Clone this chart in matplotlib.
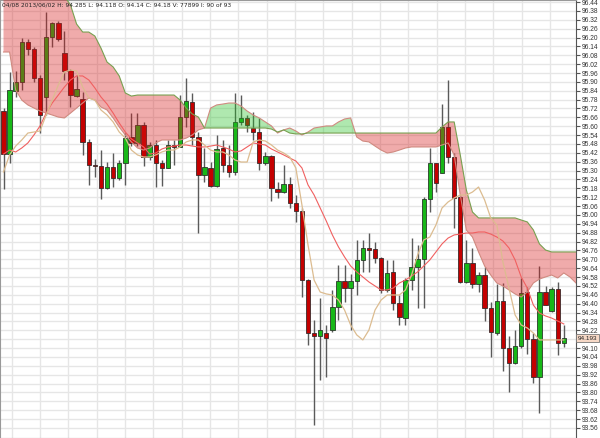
import matplotlib
matplotlib.use("Agg")
import matplotlib.pyplot as plt
import numpy as np

# candle data, one entry per bar
opens = [95.703, 95.412, 95.838, 95.899, 96.170, 96.122, 95.926, 95.798, 96.203, 96.298,
         96.095, 95.980, 95.804, 95.784, 95.494, 95.338, 95.331, 95.182, 95.324, 95.250,
         95.351, 95.527, 95.487, 95.608, 95.392, 95.473, 95.351, 95.318, 95.473, 95.460,
         95.662, 95.764, 95.527, 95.270, 95.318, 95.196, 95.453, 95.338, 95.291, 95.629,
         95.656, 95.588, 95.561, 95.351, 95.399, 95.176, 95.155, 95.209, 95.081, 95.027,
         94.560, 94.202, 94.182, 94.202, 94.222, 94.378, 94.554, 94.506, 94.554, 94.696,
         94.777, 94.770, 94.709, 94.493, 94.615, 94.405, 94.303, 94.560, 94.648, 94.702,
         95.108, 95.351, 95.284, 95.595, 95.392, 95.122, 94.547, 94.675, 94.533, 94.594,
         94.371, 94.202, 94.418, 94.101, 93.999, 94.114, 94.479, 94.161, 93.904, 94.479,
         94.351, 94.499, 94.134]
highs = [95.723, 95.967, 95.974, 96.197, 96.190, 96.136, 95.946, 96.372, 96.305, 96.311,
         96.244, 95.987, 95.946, 95.831, 95.514, 95.379, 95.439, 95.358, 95.419, 95.372,
         95.554, 95.689, 95.689, 95.629, 95.494, 95.507, 95.372, 95.507, 95.507, 95.811,
         95.926, 95.825, 95.561, 95.453, 95.358, 95.541, 95.507, 95.473, 95.825, 95.811,
         95.676, 95.696, 95.656, 95.426, 95.406, 95.223, 95.338, 95.257, 95.135, 95.047,
         94.567, 94.290, 94.439, 94.256, 94.493, 94.662, 94.662, 94.601, 94.831, 94.831,
         94.878, 94.817, 94.716, 94.696, 94.696, 94.459, 94.574, 94.844, 94.797, 95.122,
         95.453, 95.351, 95.750, 95.913, 95.419, 95.135, 94.831, 94.777, 94.615, 94.648,
         94.411, 94.533, 94.540, 94.182, 94.222, 94.574, 94.513, 94.202, 94.655, 94.520,
         94.513, 94.547, 94.256]
lows = [95.176, 95.351, 95.798, 95.845, 96.082, 95.899, 95.554, 95.676, 96.136, 96.176,
        95.913, 95.730, 95.798, 95.406, 95.203, 95.257, 95.108, 95.176, 95.189, 95.237,
        95.203, 95.466, 95.466, 95.331, 95.372, 95.189, 95.196, 95.318, 95.338, 95.460,
        95.595, 95.473, 94.878, 95.223, 95.189, 95.189, 95.291, 95.257, 95.270, 95.608,
        95.561, 95.507, 95.304, 95.338, 95.094, 95.115, 95.149, 95.047, 94.953, 94.445,
        94.121, 93.580, 93.884, 93.904, 94.209, 94.290, 94.411, 94.222, 94.459, 94.615,
        94.615, 94.675, 94.472, 94.479, 94.357, 94.256, 94.256, 94.493, 94.371, 94.371,
        95.020, 95.155, 95.284, 95.351, 94.912, 94.540, 94.540, 94.506, 94.479, 94.283,
        94.040, 94.189, 93.945, 93.803, 93.992, 94.101, 94.060, 93.864, 93.661, 94.391,
        94.344, 94.053, 94.107]
closes = [95.412, 95.845, 95.899, 96.170, 96.122, 95.926, 95.676, 96.203, 96.298, 96.190,
          95.974, 95.811, 95.852, 95.494, 95.338, 95.328, 95.182, 95.324, 95.250, 95.351,
          95.520, 95.487, 95.608, 95.392, 95.473, 95.351, 95.318, 95.473, 95.460, 95.662,
          95.771, 95.527, 95.270, 95.324, 95.196, 95.446, 95.338, 95.291, 95.629, 95.656,
          95.608, 95.561, 95.351, 95.399, 95.182, 95.155, 95.209, 95.081, 95.027, 94.560,
          94.202, 94.182, 94.222, 94.168, 94.378, 94.554, 94.506, 94.554, 94.696, 94.777,
          94.763, 94.709, 94.493, 94.608, 94.405, 94.310, 94.560, 94.648, 94.702, 95.108,
          95.351, 95.216, 95.595, 95.392, 95.115, 94.547, 94.675, 94.533, 94.594, 94.371,
          94.209, 94.418, 94.101, 93.999, 94.114, 94.472, 94.161, 93.904, 94.479, 94.391,
          94.499, 94.134, 94.168]

# ichimoku cloud spans (two bars longer than the price data)
span_a = [96.102, 96.102, 95.845, 95.777, 95.744, 95.723, 95.703, 95.689, 95.676, 95.662,
          95.656, 95.689, 95.723, 95.757, 95.791, 95.777, 95.730, 95.710, 95.656, 95.595,
          95.541, 95.494, 95.453, 95.439, 95.453, 95.487, 95.507, 95.507, 95.507, 95.507,
          95.520, 95.541, 95.575, 95.588, 95.723, 95.744, 95.750, 95.757, 95.757, 95.737,
          95.703, 95.676, 95.656, 95.629, 95.602, 95.554, 95.575, 95.588, 95.568, 95.541,
          95.561, 95.588, 95.595, 95.602, 95.602, 95.629, 95.649, 95.656, 95.527, 95.500,
          95.494, 95.466, 95.439, 95.419, 95.426, 95.439, 95.453, 95.460, 95.460, 95.460,
          95.460, 95.460, 95.473, 95.487, 95.406, 95.135, 94.898, 94.851, 94.750, 94.655,
          94.594, 94.540, 94.520, 94.493, 94.466, 94.445, 94.479, 94.540, 94.567, 94.581,
          94.594, 94.574, 94.608, 94.581, 94.540]
span_b = [96.600, 96.600, 96.600, 96.600, 96.600, 96.600, 96.600, 96.600, 96.600, 96.600,
          96.480, 96.420, 96.291, 96.237, 96.237, 96.210, 96.129, 96.034, 96.001, 95.940,
          95.825, 95.804, 95.811, 95.811, 95.811, 95.811, 95.811, 95.811, 95.811, 95.777,
          95.723, 95.683, 95.662, 95.588, 95.588, 95.588, 95.588, 95.588, 95.588, 95.588,
          95.588, 95.588, 95.588, 95.588, 95.581, 95.561, 95.575, 95.554, 95.548, 95.548,
          95.554, 95.554, 95.554, 95.554, 95.554, 95.554, 95.554, 95.554, 95.554, 95.554,
          95.554, 95.554, 95.554, 95.554, 95.554, 95.554, 95.554, 95.554, 95.554, 95.554,
          95.554, 95.554, 95.595, 95.629, 95.629, 95.406, 95.169, 95.020, 94.980, 94.980,
          94.980, 94.980, 94.980, 94.980, 94.980, 94.966, 94.953, 94.899, 94.804, 94.763,
          94.750, 94.750, 94.750, 94.750, 94.750]

# the two average lines
red_line = [95.412, 95.439, 95.426, 95.453, 95.487, 95.541, 95.602, 95.689, 95.757, 95.811,
            95.865, 95.913, 95.940, 95.940, 95.913, 95.859, 95.798, 95.750, 95.689, 95.622,
            95.561, 95.514, 95.487, 95.460, 95.412, 95.419, 95.446, 95.460, 95.466, 95.473,
            95.473, 95.466, 95.460, 95.460, 95.466, 95.473, 95.460, 95.446, 95.426, 95.433,
            95.460, 95.487, 95.480, 95.473, 95.446, 95.426, 95.406, 95.385, 95.365, 95.318,
            95.203, 95.135, 95.047, 94.959, 94.865, 94.784, 94.716, 94.655, 94.615, 94.581,
            94.547, 94.520, 94.493, 94.493, 94.506, 94.540, 94.560, 94.587, 94.615, 94.655,
            94.696, 94.750, 94.804, 94.844, 94.865, 94.871, 94.878, 94.878, 94.885, 94.885,
            94.871, 94.851, 94.824, 94.777, 94.696, 94.581, 94.506, 94.391, 94.337, 94.317,
            94.303, 94.283, 94.263]
tan_line = [95.291, 95.406, 95.466, 95.507, 95.554, 95.561, 95.568, 95.676, 95.777, 95.879,
            95.967, 95.980, 95.974, 95.865, 95.791, 95.777, 95.710, 95.676, 95.629, 95.561,
            95.520, 95.439, 95.406, 95.392, 95.392, 95.406, 95.426, 95.439, 95.439, 95.460,
            95.494, 95.507, 95.507, 95.473, 95.439, 95.426, 95.426, 95.406, 95.372, 95.358,
            95.358, 95.494, 95.507, 95.500, 95.473, 95.439, 95.419, 95.392, 95.318, 95.068,
            94.797, 94.560, 94.479, 94.466, 94.459, 94.425, 94.357, 94.256, 94.189, 94.155,
            94.222, 94.357, 94.425, 94.459, 94.459, 94.459, 94.493, 94.594, 94.730, 94.831,
            94.851, 94.932, 95.047, 95.088, 95.115, 95.135, 95.135, 95.155, 95.189, 95.101,
            94.980, 94.932, 94.682, 94.506, 94.324, 94.256, 94.236, 94.202, 94.155, 94.155,
            94.155, 94.155, 94.155]

y_labels = [round(96.44 - 0.06 * k, 2) for k in range(49)]
header = "04/08 2013/06/02 H: 94.285 L: 94.118 O: 94.14 C: 94.18 V: 77899 I: 90 of 93"
last_label = "94.193"

fig = plt.figure(figsize=(6, 4.38), dpi=100)
ax = fig.add_axes([0, 0, 576 / 600, 1])
ax.set_xlim(-0.575, 94.0)
ax.set_ylim(93.492, 96.4536)

idx = np.arange(len(opens))
o = np.array(opens)
c = np.array(closes)
up = c >= o

# grid; the label under the last-price box is left blank, as in the source
ax.set_yticks(y_labels)
ax.set_yticklabels(["" if abs(v - 94.16) < 1e-6 else f"{v:.2f}" for v in y_labels],
                   family="Liberation Sans")
ax.set_xticks(np.arange(1.35, 94, 4.652))
ax.set_xticklabels([])
ax.grid(True, color="#e6e6e6", linewidth=1.0, zorder=0)
ax.set_axisbelow(True)
ax.yaxis.tick_right()
ax.tick_params(axis="y", direction="out", length=3, width=0.8, color="#555555",
               labelsize=4.8, labelcolor="#333333", pad=1.5)
ax.tick_params(axis="x", length=0)
for side in ["top", "left", "bottom"]:
    ax.spines[side].set_color("#999999")
ax.spines["right"].set_color("#555555")

# candles
ax.vlines(idx, lows, highs, color="#5a5a5a", linewidth=1.0, zorder=2)
body_low = np.minimum(o, c)
body_h = np.maximum(np.abs(c - o), 0.008)
ax.bar(idx[up], body_h[up], bottom=body_low[up], width=0.72, color="#18b818",
       edgecolor="#2a3a2a", linewidth=0.6, zorder=3)
ax.bar(idx[~up], body_h[~up], bottom=body_low[~up], width=0.72, color="#c40000",
       edgecolor="#3a2a2a", linewidth=0.6, zorder=3)

# cloud drawn over the candles
cidx = np.arange(len(span_a))
a = np.array(span_a)
b = np.array(span_b)
ax.fill_between(cidx, a, b, where=a >= b, interpolate=True, color="#22c022",
                alpha=0.36, linewidth=0, zorder=4)
ax.fill_between(cidx, a, b, where=b >= a, interpolate=True, color="#d81818",
                alpha=0.36, linewidth=0, zorder=4)
ax.plot(cidx, span_a, color="#d08a80", linewidth=0.8, zorder=5)
ax.plot(cidx, span_b, color="#78a050", linewidth=0.8, zorder=5)

ax.plot(idx, red_line, color="#f06060", linewidth=0.8, zorder=6)
ax.plot(idx, tan_line, color="#dcbc90", linewidth=0.9, zorder=6)

# header and last price box
ax.text(0.004, 0.995, header, transform=ax.transAxes, fontsize=4.3, color="#222222",
        ha="left", va="top", zorder=8)
ax.annotate(last_label, xy=(1.0, closes[-1]), xycoords=("axes fraction", "data"),
            xytext=(1.2, 0), textcoords="offset points", fontsize=4.6, color="#222222",
            family="Liberation Sans", ha="left", va="center", annotation_clip=False,
            bbox=dict(boxstyle="square,pad=0.25", fc="#f6d8c6", ec="#777777", lw=0.6))

fig.savefig("out.png", dpi=100)
